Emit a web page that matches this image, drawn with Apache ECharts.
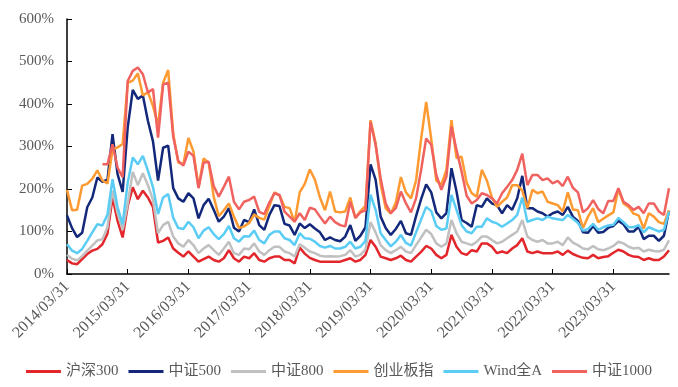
<!DOCTYPE html>
<html><head><meta charset="utf-8">
<script src="https://cdn.jsdelivr.net/npm/echarts@6/dist/echarts.min.js"></script>
<style>html,body{margin:0;padding:0;background:#fff}#c{width:678px;height:387px}</style>
</head><body><div id="c"></div>
<script>
// month-end dates 2014/03 .. 2024/02
const categories = [];
for (let k = 0; k < 120; k++) {
  const y = 2014 + Math.floor((2 + k) / 12), m = (2 + k) % 12 + 1;
  const d = new Date(y, m, 0).getDate();
  categories.push(y + '/' + String(m).padStart(2, '0') + '/' + String(d).padStart(2, '0'));
}
const seriesNames = ['沪深300', '中证500', '中证800', '创业板指', 'Wind全A', '中证1000'];
const hs300 = [33,25,23,35,47,55,59,70,95,180,125,86,
  160,204,176,196,180,157,74,78,86,60,50,41,
  53,41,29,35,41,33,29,37,56,37,29,41,
  37,49,33,29,37,41,41,33,33,25,62,48,
  38,33,29,29,29,29,29,33,37,29,33,45,
  80,64,41,37,33,37,43,33,29,41,52,66,
  60,45,37,45,92,64,49,45,56,53,72,72,
  64,49,53,49,60,68,84,53,49,53,49,49,
  49,53,45,55,47,42,38,37,45,37,40,42,
  50,57,53,45,41,40,33,37,33,33,41,56];
const zz500 = [138,108,87,97,157,180,227,217,222,329,235,193,
  345,433,412,420,360,312,220,297,302,202,178,170,
  190,178,131,162,177,151,123,135,155,109,100,127,
  122,152,115,104,139,162,160,118,114,92,119,108,
  117,107,98,80,86,80,77,88,115,78,90,110,
  258,222,135,108,92,106,125,96,92,136,176,211,
  192,145,131,143,249,194,127,120,111,162,158,178,
  166,162,143,162,151,178,231,155,155,147,143,135,
  143,147,139,158,135,125,98,97,113,97,99,109,
  113,125,117,100,100,111,82,90,90,78,90,149];
const zz800 = [45,36,32,42,55,67,79,82,110,196,143,104,
  165,240,209,237,209,174,96,115,123,88,72,64,
  80,68,49,60,68,56,45,60,76,49,45,60,
  58,72,53,45,56,64,64,53,49,41,70,62,
  53,49,43,41,42,41,42,45,56,41,45,58,
  122,98,68,56,49,56,64,53,49,68,86,104,
  94,72,64,72,127,96,76,72,68,76,88,88,
  80,72,76,84,92,100,127,88,80,76,80,72,
  72,76,68,86,74,68,60,58,66,58,56,60,
  66,76,72,64,60,62,53,57,54,53,57,79];
const cyb = [198,150,151,208,212,224,244,220,213,293,298,306,
  450,455,472,420,428,395,350,450,480,330,262,258,
  320,288,205,272,262,182,136,150,166,135,108,112,
  120,140,132,128,160,192,185,158,155,122,192,212,
  246,222,180,150,194,147,145,147,180,132,148,160,
  362,308,212,155,142,168,228,192,178,220,318,405,
  318,220,210,245,362,273,276,215,190,182,245,220,
  180,158,170,180,209,209,196,155,198,190,194,170,
  166,162,147,192,152,150,108,135,155,122,130,138,
  145,200,166,158,142,138,107,143,135,122,118,150];
const windA = [70,55,49,59,78,98,117,114,140,223,157,117,
  215,274,258,278,243,204,141,180,188,132,108,106,
  123,110,84,102,110,94,82,94,113,84,76,89,
  88,102,80,72,92,100,100,84,80,68,96,84,
  83,76,66,62,66,60,60,64,76,60,64,78,
  187,151,96,80,65,76,92,73,67,98,128,158,
  148,113,104,107,186,151,115,100,96,111,111,131,
  123,119,111,119,127,139,180,123,127,131,127,135,
  131,129,127,139,130,120,102,106,118,104,110,114,
  116,132,122,110,110,115,98,110,105,100,104,147];
const zz1000 = [null,null,null,null,null,null,null,258,258,305,250,228,
  454,478,486,470,427,435,321,446,450,323,266,255,
  288,278,202,262,264,207,182,205,229,170,152,170,
  174,182,146,141,168,190,186,147,135,123,143,127,
  156,152,135,119,135,122,115,112,170,132,145,150,
  358,304,225,166,143,155,194,166,145,178,245,319,
  304,233,198,229,347,292,241,184,166,174,190,186,
  178,166,190,205,221,245,283,209,233,233,221,225,
  213,219,207,229,203,192,145,155,174,153,143,172,
  172,202,170,162,151,158,143,166,166,147,139,202];
const yTicks = [0, 100, 200, 300, 400, 500, 600];

const colors = ['#e3262b', '#13287a', '#c0c0c0', '#fd9a32', '#5bcdf5', '#f0625f'];
const data = [hs300, zz500, zz800, cyb, windA, zz1000];
const FONT = "'Times New Roman','Liberation Serif','Noto Sans CJK SC',serif";

const chart = echarts.init(document.getElementById('c'), null, { renderer: 'canvas' });
chart.setOption({
  animation: false,
  color: colors,
  grid: { left: 67, right: 9, top: 19, bottom: 113 },
  legend: {
    bottom: 3, left: 'center',
    icon: 'rect', itemWidth: 35, itemHeight: 3, itemGap: 10,
    textStyle: { color: '#595959', fontSize: 15, fontFamily: FONT },
    data: seriesNames
  },
  xAxis: {
    type: 'category', data: categories, boundaryGap: false,
    axisLine: { lineStyle: { color: '#000', width: 1.5 } },
    axisTick: { show: true, inside: true, interval: 11, length: 5, lineStyle: { color: '#000' } },
    axisLabel: { interval: 11, rotate: 45, color: '#595959', fontSize: 16, fontFamily: FONT, margin: 10 },
    splitLine: { show: false }
  },
  yAxis: {
    type: 'value', min: yTicks[0], max: yTicks[yTicks.length - 1], interval: 100,
    axisLine: { show: true, lineStyle: { color: '#000', width: 1.5 } },
    axisTick: { show: true, inside: true, length: 5, lineStyle: { color: '#000' } },
    axisLabel: { formatter: '{value}%', color: '#595959', fontSize: 15, fontFamily: FONT, margin: 13 },
    splitLine: { show: false }
  },
  series: seriesNames.map((n, k) => ({
    name: n, type: 'line', data: data[k], showSymbol: false, symbol: 'none',
    lineStyle: { width: 2.5, color: colors[k] }, itemStyle: { color: colors[k] },
    connectNulls: false
  }))
});
</script></body></html>
